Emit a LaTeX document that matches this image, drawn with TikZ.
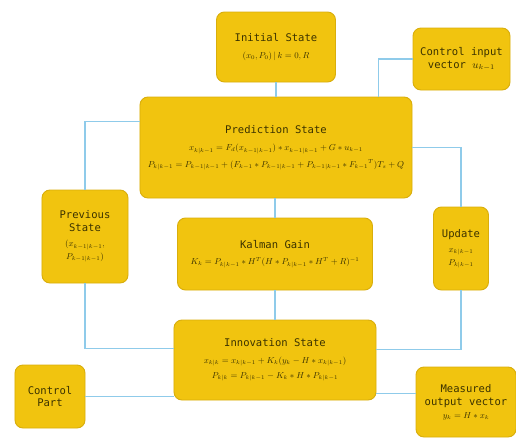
\documentclass[tikz,border=0pt]{standalone}
\usepackage{amsmath}
\usepackage{fontspec}
\setmainfont{DejaVu Sans Mono}
\usepackage{tikz}
\usetikzlibrary{positioning,calc}
\definecolor{kfgold}{HTML}{F1C40F}
\definecolor{kfedge}{HTML}{D9AE0C}
\definecolor{kftext}{HTML}{3B3200}
\definecolor{kfwire}{HTML}{8FCBEA}
\newcommand{\kfeq}[1]{\scalebox{0.82}{$#1$}}

\begin{document}
\begin{tikzpicture}[
    x=0.03cm,
    y=-0.03cm,
    font=\fontsize{9}{11}\selectfont,
    stage/.style={rectangle, rounded corners=2.4mm, draw=kfedge, line width=0.8pt, fill=kfgold, text=kftext, align=center, inner sep=2pt},
    link/.style={draw=kfwire, line width=1.2pt}
  ]
    \useasboundingbox (0,0) rectangle (516,437);

    \node[stage, minimum width=3.57cm, minimum height=2.1cm] (init) at (276,47) {Initial State\\[3pt]\kfeq{(x_0,P_0)\,|\,k=0,R}};
    \node[stage, minimum width=2.91cm, minimum height=1.86cm] (ctrlin) at (461.5,59) {Control input\\vector $u_{k-1}$};
    \node[stage, minimum width=8.16cm, minimum height=3.03cm] (pred) at (276,147.5) {Prediction State\\[4pt]
      \kfeq{x_{k|k-1} = F_d(x_{k-1|k-1}) * x_{k-1|k-1} + G * u_{k-1}}\\[3pt]
      \kfeq{P_{k|k-1} = P_{k-1|k-1} + (F_{k-1} * P_{k-1|k-1} + P_{k-1|k-1} * {F_{k-1}}^{T})T_s + Q}};
    \node[stage, minimum width=2.58cm, minimum height=2.79cm] (prev) at (85,236.5) {Previous\\State\\[2pt]\kfeq{(x_{k-1|k-1},}\\\kfeq{P_{k-1|k-1})}};
    \node[stage, minimum width=1.65cm, minimum height=2.49cm] (upd) at (461,248.5) {Update\\[2pt]\kfeq{x_{k|k-1}}\\\kfeq{P_{k|k-1}}};
    \node[stage, minimum width=5.85cm, minimum height=2.16cm] (kal) at (275,254) {Kalman Gain\\[3pt]\kfeq{K_k = P_{k|k-1} * H^T (H * P_{k|k-1} * H^T + R)^{-1}}};
    \node[stage, minimum width=6.06cm, minimum height=2.4cm] (innov) at (275,360) {Innovation State\\[3pt]
      \kfeq{x_{k|k} = x_{k|k-1} + K_k(y_k - H * x_{k|k-1})}\\[2pt]
      \kfeq{P_{k|k} = P_{k|k-1} - K_k * H * P_{k|k-1}}};
    \node[stage, minimum width=2.1cm, minimum height=1.89cm] (ctrlpart) at (50,396.5) {Control\\Part};
    \node[stage, minimum width=3.0cm, minimum height=2.1cm] (meas) at (466,402) {Measured\\output vector\\\kfeq{y_k = H * x_k}};

    \draw[link] (init.south) -- (init.south |- pred.north);
    \draw[link] (ctrlin.west) -| ([xshift=-1.02cm]pred.north east);
    \draw[link] ([yshift=-0.75cm]pred.north west) -| (prev.north);
    \draw[link] (pred.east) -| (upd.north);
    \draw[link] (kal.north |- pred.south) -- (kal.north);
    \draw[link] (kal.south) -- (kal.south |- innov.north);
    \draw[link] (prev.south) |- ([yshift=-0.87cm]innov.north west);
    \draw[link] (upd.south) |- ([yshift=-0.9cm]innov.north east);
    \draw[link] (ctrlpart.east) -- (ctrlpart.east -| innov.west);
    \draw[link] ([yshift=0.25cm]meas.west) -- ([yshift=0.25cm]meas.west -| innov.east);
  \end{tikzpicture}
\end{document}
